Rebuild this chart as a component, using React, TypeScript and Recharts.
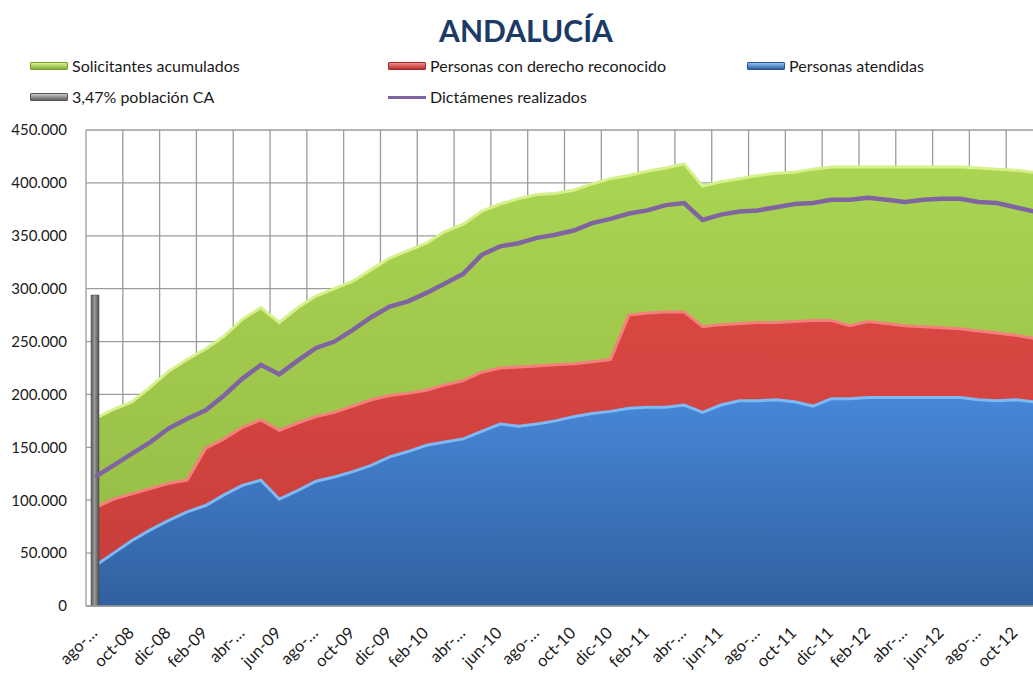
import {
  Area,
  Bar,
  CartesianGrid,
  ComposedChart,
  Line,
  XAxis,
  YAxis,
} from "recharts";

const MONTHS = [
  "ago-08", "sep-08", "oct-08", "nov-08", "dic-08",
  "ene-09", "feb-09", "mar-09", "abr-09", "may-09", "jun-09", "jul-09",
  "ago-09", "sep-09", "oct-09", "nov-09", "dic-09",
  "ene-10", "feb-10", "mar-10", "abr-10", "may-10", "jun-10", "jul-10",
  "ago-10", "sep-10", "oct-10", "nov-10", "dic-10",
  "ene-11", "feb-11", "mar-11", "abr-11", "may-11", "jun-11", "jul-11",
  "ago-11", "sep-11", "oct-11", "nov-11", "dic-11",
  "ene-12", "feb-12", "mar-12", "abr-12", "may-12", "jun-12", "jul-12",
  "ago-12", "sep-12", "oct-12", "nov-12",
];

// labels as Excel printed them (every second month, some cut off)
const TICK_LABELS = [
  "ago-…", "oct-08", "dic-08", "feb-09", "abr-…", "jun-09", "ago-…",
  "oct-09", "dic-09", "feb-10", "abr-…", "jun-10", "ago-…", "oct-10",
  "dic-10", "feb-11", "abr-…", "jun-11", "ago-…", "oct-11", "dic-11",
  "feb-12", "abr-…", "jun-12", "ago-…", "oct-12",
];

const SOLICITANTES = [
  177000, 186000, 193000, 207000, 222000, 233000, 243000, 255000, 271000,
  282000, 268000, 282000, 293000, 300000, 307000, 318000, 329000, 336000,
  343000, 354000, 361000, 373000, 380000, 385000, 389000, 390000, 393000,
  399000, 404000, 407000, 411000, 414000, 418000, 397000, 401000, 404000,
  407000, 409000, 410000, 413000, 415000, 415000, 415000, 415000, 415000,
  415000, 415000, 415000, 414000, 413000, 412000, 410000,
];

const DERECHO = [
  93000, 101000, 106000, 111000, 116000, 119000, 149000, 158000, 169000,
  176000, 166000, 173000, 179000, 183000, 189000, 195000, 199000, 201000,
  204000, 209000, 213000, 221000, 225000, 226000, 227000, 228000, 229000,
  231000, 233000, 275000, 277000, 278000, 278000, 264000, 266000, 267000,
  268000, 268000, 269000, 270000, 270000, 265000, 269000, 267000, 265000,
  264000, 263000, 262000, 260000, 258000, 256000, 253000,
];

const ATENDIDAS = [
  38000, 50000, 62000, 72000, 81000, 89000, 95000, 105000, 114000, 119000,
  101000, 109000, 118000, 122000, 127000, 133000, 141000, 146000, 152000,
  155000, 158000, 165000, 172000, 170000, 172000, 175000, 179000, 182000,
  184000, 187000, 188000, 188000, 190000, 183000, 190000, 194000, 194000,
  195000, 193000, 189000, 196000, 196000, 197000, 197000, 197000, 197000,
  197000, 197000, 195000, 194000, 195000, 193000,
];

const DICTAMENES = [
  122000, 133000, 144000, 155000, 168000, 177000, 185000, 199000, 215000,
  228000, 219000, 232000, 244000, 250000, 261000, 273000, 283000, 288000,
  296000, 305000, 314000, 332000, 340000, 343000, 348000, 351000, 355000,
  362000, 366000, 371000, 374000, 379000, 381000, 365000, 370000, 373000,
  374000, 377000, 380000, 381000, 384000, 384000, 386000, 384000, 382000,
  384000, 385000, 385000, 382000, 381000, 377000, 373000,
];

// only the first month carries the population reference
const POBLACION_CA = [294000];

const Y_TICKS = [0, 50000, 100000, 150000, 200000, 250000, 300000, 350000, 400000, 450000];

const FONT = "Lato, 'Open Sans', sans-serif";
const TEXT = "#1a1a1a";
const GRID = "#9c9c9c";

const data = MONTHS.map((m, i) => ({
  idx: i,
  month: m,
  solicitantes: SOLICITANTES[i],
  derecho: DERECHO[i],
  atendidas: ATENDIDAS[i],
  dictamenes: DICTAMENES[i],
  poblacion: POBLACION_CA[i] ?? null,
}));

const labelTicks = TICK_LABELS.map((_, k) => k * 2);
const gridX: number[] = [];
for (let k = -0.5; k <= MONTHS.length - 0.5; k += 2) gridX.push(k);

function fmtThousands(v: number): string {
  if (v === 0) return "0";
  const s = String(Math.round(v));
  return s.replace(/\B(?=(\d{3})+(?!\d))/g, ".");
}

// vertical grid every two months, on the category boundaries
function gridVerticals({ xAxis, offset }: any): number[] {
  const sc = xAxis?.scale;
  if (typeof sc === "function") return gridX.map((v) => sc(v));
  const n = MONTHS.length;
  return gridX.map((v) => offset.left + ((v + 0.5) / n) * offset.width);
}

function MonthTick(props: any) {
  const { x, payload } = props;
  const label = TICK_LABELS[Math.round(payload.value / 2)] ?? "";
  return (
    <g transform={`translate(${x + 3},${634})`}>
      <text
        transform="rotate(-45)"
        textAnchor="end"
        fontFamily={FONT}
        fontSize={16.5}
        fill={TEXT}
      >
        {label}
      </text>
    </g>
  );
}

function Swatch({ top, bottom, edge }: { top: string; bottom: string; edge: string }) {
  return (
    <div
      style={{
        width: 38,
        height: 8,
        boxSizing: "border-box",
        border: `1px solid ${edge}`,
        borderRadius: 1,
        background: `linear-gradient(${top}, ${bottom})`,
      }}
    />
  );
}

function LegendItem({ left, top, children, label }: any) {
  return (
    <div
      style={{
        position: "absolute",
        left,
        top,
        display: "flex",
        alignItems: "center",
        gap: 4,
        fontFamily: FONT,
        fontSize: 16,
        color: TEXT,
        lineHeight: "18px",
        whiteSpace: "nowrap",
      }}
    >
      {children}
      <span>{label}</span>
    </div>
  );
}

export default function App() {
  return (
    <div
      style={{
        position: "absolute",
        left: 0,
        top: 0,
        width: 1033,
        height: 673,
        overflow: "hidden",
        background: "#fff",
      }}
    >
      <div
        style={{
          position: "absolute",
          left: 0,
          top: 13,
          width: 1052,
          textAlign: "center",
          fontFamily: FONT,
          fontWeight: 700,
          fontSize: 30,
          lineHeight: "34px",
          color: "#1b3a66",
        }}
      >
        ANDALUCÍA
      </div>

      <LegendItem left={30} top={57} label="Solicitantes acumulados">
        <Swatch top="#d9f28c" bottom="#86ad3a" edge="#7a9e34" />
      </LegendItem>
      <LegendItem left={388} top={57} label="Personas con derecho reconocido">
        <Swatch top="#f58a86" bottom="#b8322e" edge="#a02c29" />
      </LegendItem>
      <LegendItem left={747} top={57} label="Personas atendidas">
        <Swatch top="#8cc2f7" bottom="#2f5e9e" edge="#2a5590" />
      </LegendItem>
      <LegendItem left={30} top={88} label="3,47% población CA">
        <Swatch top="#c8c8c8" bottom="#5e5e5e" edge="#555" />
      </LegendItem>
      <LegendItem left={388} top={88} label="Dictámenes realizados">
        <div style={{ width: 38, height: 3, background: "#8064a2" }} />
      </LegendItem>

      <ComposedChart
        width={1060}
        height={673}
        data={data}
        margin={{ top: 130, right: 17, bottom: 7, left: 16 }}
        style={{ position: "absolute", left: 0, top: 0 }}
      >
        <defs>
          <linearGradient id="gGreen" x1="0" y1="0" x2="0" y2="1">
            <stop offset="0%" stopColor="#aad452" />
            <stop offset="100%" stopColor="#93ba45" />
          </linearGradient>
          <linearGradient id="gRed" x1="0" y1="0" x2="0" y2="1">
            <stop offset="0%" stopColor="#da4743" />
            <stop offset="100%" stopColor="#c63d39" />
          </linearGradient>
          <linearGradient id="gBlue" x1="0" y1="0" x2="0" y2="1">
            <stop offset="0%" stopColor="#4787d8" />
            <stop offset="100%" stopColor="#31609f" />
          </linearGradient>
          <linearGradient id="gGray" x1="0" y1="0" x2="1" y2="0">
            <stop offset="0%" stopColor="#5c5c5c" />
            <stop offset="45%" stopColor="#9a9a9a" />
            <stop offset="100%" stopColor="#4e4e4e" />
          </linearGradient>
        </defs>
        <CartesianGrid
          stroke={GRID}
          strokeWidth={1.3}
          verticalCoordinatesGenerator={gridVerticals}
        />
        <XAxis
          dataKey="idx"
          type="number"
          domain={[-0.5, MONTHS.length - 0.5]}
          ticks={labelTicks}
          interval={0}
          height={60}
          tickLine={false}
          axisLine={{ stroke: GRID, strokeWidth: 1.3 }}
          tick={<MonthTick />}
        />
        <YAxis
          domain={[0, 450000]}
          ticks={Y_TICKS}
          width={70}
          axisLine={false}
          tickLine={false}
          tickMargin={13}
          tickFormatter={fmtThousands}
          tick={{ fontFamily: FONT, fontSize: 15, fill: TEXT }}
        />
        <Area
          type="linear"
          dataKey="solicitantes"
          fill="url(#gGreen)"
          fillOpacity={1}
          stroke="#d6f08a"
          strokeWidth={3}
          isAnimationActive={false}
        />
        <Area
          type="linear"
          dataKey="derecho"
          fill="url(#gRed)"
          fillOpacity={1}
          stroke="#f4807c"
          strokeWidth={3}
          isAnimationActive={false}
        />
        <Area
          type="linear"
          dataKey="atendidas"
          fill="url(#gBlue)"
          fillOpacity={1}
          stroke="#7db9f4"
          strokeWidth={3}
          isAnimationActive={false}
        />
        <Line
          type="linear"
          dataKey="dictamenes"
          stroke="#8064a2"
          strokeWidth={4.5}
          dot={false}
          isAnimationActive={false}
        />
        <Bar
          dataKey="poblacion"
          barSize={8}
          fill="url(#gGray)"
          stroke="#4a4a4a"
          strokeWidth={0.5}
          isAnimationActive={false}
        />
      </ComposedChart>
    </div>
  );
}
